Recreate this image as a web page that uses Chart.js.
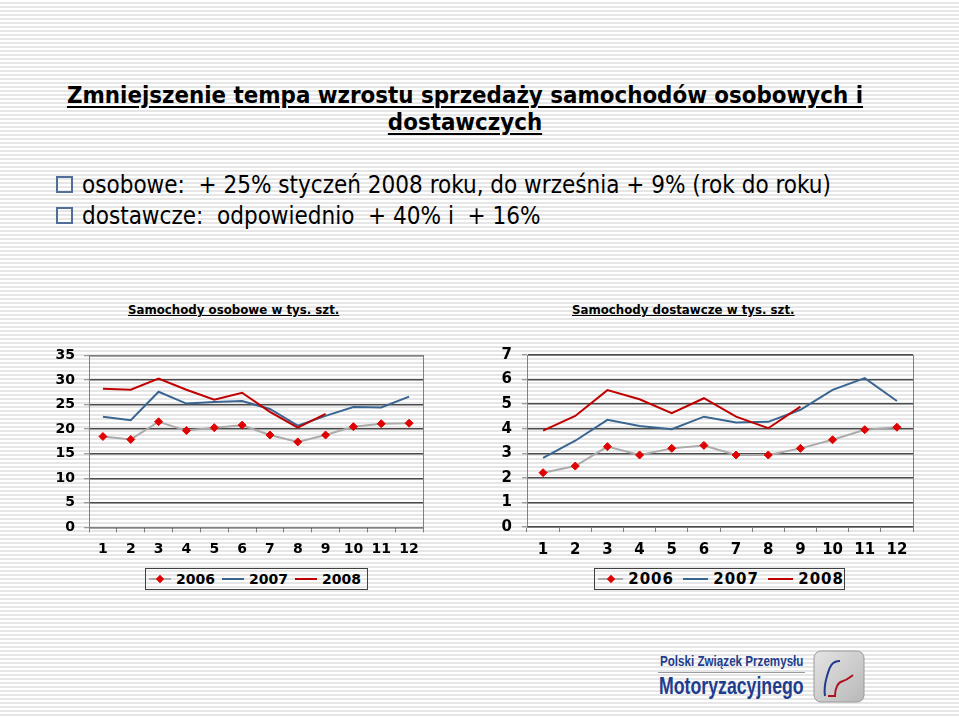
<!DOCTYPE html>
<html lang="pl">
<head>
<meta charset="utf-8">
<script src="https://cdn.jsdelivr.net/npm/chart.js@4.4.0/dist/chart.umd.min.js"></script>
<style>
  html, body { margin: 0; padding: 0; }
  body {
    width: 959px; height: 717px; position: relative; overflow: hidden;
    background: repeating-linear-gradient(to bottom, #ffffff 0px, #ffffff 2px, #e6e6e6 2px, #e6e6e6 4px);
    font-family: 'DejaVu Sans', sans-serif;
  }
  .abs { position: absolute; }
  .title {
    left: 0; width: 930px; top: 82px; text-align: center;
    font-family: 'DejaVu Sans Condensed', 'DejaVu Sans', sans-serif;
    font-weight: bold; font-size: 23.8px; line-height: 27px;
    text-decoration: underline; text-decoration-thickness: 2px; text-underline-offset: 3px;
  }
  .bullet { left: 56px; font-family: 'DejaVu Sans Condensed', sans-serif; font-size: 24px; white-space: pre; }
  .bullet .sq {
    display: inline-block; width: 13px; height: 13px; border: 2px solid #4f6f98;
    margin-right: 9px; vertical-align: 0px;
  }
  .ctitle { font-weight: bold; font-size: 11.8px; text-decoration: underline; white-space: pre; }
  .legend {
    border: 1px solid #404040; height: 20px; display: flex; align-items: center;
    font-weight: bold; white-space: nowrap;
  }
  .legend .ln { display: inline-block; height: 2px; position: relative; }
  .legend .dm {
    position: absolute; width: 6px; height: 6px; background: #e00000;
    left: 50%; top: 50%; transform: translate(-50%, -50%) rotate(45deg);
  }
  .logo { font-family: 'Liberation Sans', sans-serif; font-weight: bold; color: #1f3d8c;
          transform-origin: 0 0; white-space: nowrap; }
  .logo1 { left: 660px; top: 652px; font-size: 15px; transform: scaleX(0.775); }
  .logo2 { left: 659px; top: 673px; font-size: 23px; transform: scaleX(0.77); }
</style>
</head>
<body>
<div class="abs title">Zmniejszenie tempa wzrostu sprzedaży samochodów osobowych i<br>dostawczych</div>
<div class="abs bullet" style="top:171px"><span class="sq"></span>osobowe:  + 25% styczeń 2008 roku, do września + 9% (rok do roku)</div>
<div class="abs bullet" style="top:202px"><span class="sq"></span>dostawcze:  odpowiednio  + 40% i  + 16%</div>

<div class="abs ctitle" style="left:128px; top:303px">Samochody osobowe w tys. szt.</div>
<div class="abs ctitle" style="left:572px; top:303px">Samochody dostawcze w tys. szt.</div>

<div class="abs" style="left:30px; top:337.6px; width:400px; height:225.4px"><canvas id="osobowe"></canvas></div>
<div class="abs" style="left:470px; top:336px; width:450px; height:227px"><canvas id="dostawcze"></canvas></div>

<div class="abs legend" id="legendL" style="left:145px; top:568px; width:221px; font-size:14px"></div>
<div class="abs legend" id="legendR" style="left:594px; top:568px; width:249px; font-size:15px; letter-spacing:1px"></div>

<div class="abs logo logo1">Polski Związek Przemysłu</div>
<div class="abs" style="left:658px; top:672px; width:147px; height:1px; background:#9a9a9a"></div>
<div class="abs logo logo2">Motoryzacyjnego</div>
<svg class="abs" style="left:813px; top:650px" width="52" height="53" viewBox="0 0 52 53">
  <defs>
    <linearGradient id="lg" x1="0" y1="0" x2="1" y2="1">
      <stop offset="0" stop-color="#e4e4e4"/><stop offset="1" stop-color="#b8b8b8"/>
    </linearGradient>
  </defs>
  <rect x="1" y="1" width="50" height="51" rx="7" fill="url(#lg)" stroke="#9a9a9a"/>
  <path d="M27 11 C17 11 16 20 14 26 C12 33 11 40 12 46" fill="none" stroke="#1f3d8c" stroke-width="2"/>
  <path d="M15 46 L22 46 C22 38 25 32 30 31 C34 30 36 28 40 25" fill="none" stroke="#b01020" stroke-width="2"/>
</svg>

<script>
// dane
const months = ['1', '2', '3', '4', '5', '6', '7', '8', '9', '10', '11', '12'];
const years = ['2006', '2007', '2008'];

const osobowe2006 = [18.5, 17.9, 21.5, 19.7, 20.3, 20.8, 18.8, 17.4, 18.8, 20.5, 21.1, 21.2];
const osobowe2007 = [22.5, 21.8, 27.6, 25.2, 25.5, 25.7, 24.1, 20.7, 22.7, 24.5, 24.4, 26.6];
const osobowe2008 = [28.2, 28.0, 30.3, 28.0, 26.0, 27.4, 23.5, 20.3, 23.1];

const dostawcze2006 = [2.21, 2.48, 3.27, 2.93, 3.20, 3.32, 2.93, 2.93, 3.20, 3.55, 3.96, 4.06];
const dostawcze2007 = [2.81, 3.51, 4.36, 4.11, 3.98, 4.49, 4.25, 4.28, 4.77, 5.58, 6.06, 5.13];
const dostawcze2008 = [3.92, 4.52, 5.57, 5.20, 4.63, 5.24, 4.49, 4.02, 4.90];

const colors = { line2006: '#ababab', marker2006: '#e00000', line2007: '#3b6591', line2008: '#c00000' };

// ramka obszaru wykresu
const frame = {
  id: 'frame',
  beforeDatasetsDraw(chart) {
    const { ctx, chartArea: a } = chart;
    ctx.save();
    ctx.strokeStyle = '#808080';
    ctx.lineWidth = 1;
    ctx.strokeRect(Math.round(a.left) + 0.5, Math.round(a.top) + 0.5, Math.round(a.width), Math.round(a.height));
    ctx.restore();
  }
};

function makeChart(id, data, opts) {
  return new Chart(document.getElementById(id), {
    type: 'line',
    data: {
      labels: months,
      datasets: [
        { label: years[0], data: data[0], borderColor: colors.line2006, borderWidth: 2,
          pointStyle: 'rectRot', pointRadius: 4, pointBackgroundColor: colors.marker2006,
          pointBorderColor: colors.marker2006, pointBorderWidth: 1, order: 0 },
        { label: years[1], data: data[1], borderColor: colors.line2007, borderWidth: 2, pointRadius: 0, order: 2 },
        { label: years[2], data: data[2], borderColor: colors.line2008, borderWidth: 2, pointRadius: 0, order: 1 }
      ]
    },
    options: {
      responsive: true,
      maintainAspectRatio: false,
      animation: false,
      layout: { padding: { top: 3, right: 7, left: 0, bottom: 0 } },
      plugins: { legend: { display: false }, tooltip: { enabled: false } },
      scales: {
        x: {
          offset: true,
          afterFit: s => { s.height = 36; },
          grid: { offset: true, drawOnChartArea: false, tickLength: 5, color: '#808080' },
          border: { color: '#808080' },
          ticks: { autoSkip: false, maxRotation: 0, padding: opts.xPad, color: '#000',
                   font: { family: 'DejaVu Sans', weight: 'bold', size: opts.xFont } }
        },
        y: {
          min: 0, max: opts.max,
          afterFit: s => { s.width = opts.yWidth; },
          grid: { color: '#4a4a4a', lineWidth: 1.5, tickLength: 5, tickColor: '#808080', tickWidth: 1 },
          border: { color: '#808080' },
          ticks: { stepSize: opts.step, padding: opts.yPad, color: '#000',
                   font: { family: 'DejaVu Sans', weight: 'bold', size: opts.yFont } }
        }
      }
    },
    plugins: [frame]
  });
}

function buildLegend(id, lineW, gap) {
  const el = document.getElementById(id);
  const lines = [colors.line2006, colors.line2007, colors.line2008];
  years.forEach((y, i) => {
    const ln = document.createElement('span');
    ln.className = 'ln';
    ln.style.width = lineW + 'px';
    ln.style.background = lines[i];
    ln.style.marginLeft = (i === 0 ? 3 : gap) + 'px';
    ln.style.marginRight = '5px';
    if (i === 0) {
      const dm = document.createElement('span');
      dm.className = 'dm';
      ln.appendChild(dm);
    }
    el.appendChild(ln);
    el.appendChild(document.createTextNode(y));
  });
}

makeChart('osobowe', [osobowe2006, osobowe2007, osobowe2008],
  { max: 35, step: 5, yWidth: 59, yPad: 9, yFont: 14, xPad: 9, xFont: 14 });
makeChart('dostawcze', [dostawcze2006, dostawcze2007, dostawcze2008],
  { max: 7, step: 1, yWidth: 57, yPad: 10, yFont: 15, xPad: 9, xFont: 15 });

buildLegend('legendL', 22, 7);
buildLegend('legendR', 26, 9);
</script>
</body>
</html>
